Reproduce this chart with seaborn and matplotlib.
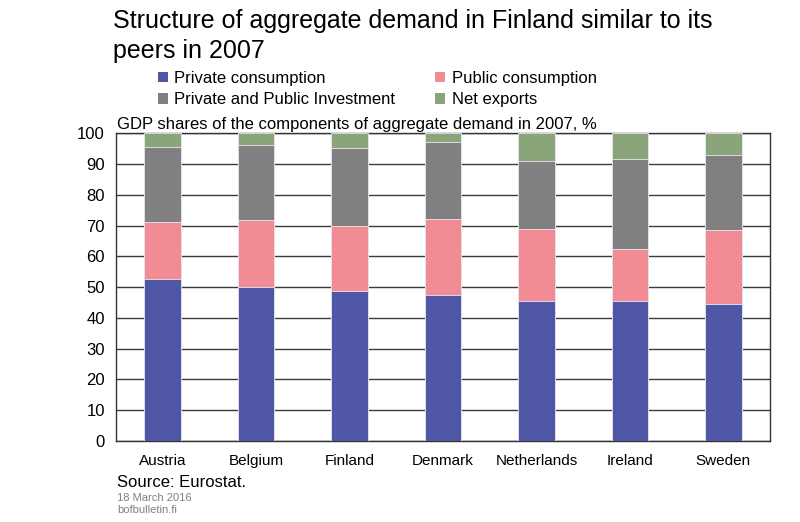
import numpy as np
import pandas as pd
import matplotlib
matplotlib.use("Agg")
import matplotlib.pyplot as plt
from matplotlib.patches import Patch
import seaborn as sns

countries = ["Austria", "Belgium", "Finland", "Denmark", "Netherlands", "Ireland", "Sweden"]
private_cons = [52.5, 50.1, 48.7, 47.5, 45.5, 45.5, 44.4]
public_cons = [18.7, 21.7, 21.1, 24.5, 23.3, 16.8, 24.1]
investment = [24.3, 24.3, 25.4, 25.2, 22.2, 29.2, 24.4]
net_exports = [4.5, 3.9, 4.8, 2.8, 9.0, 8.5, 7.1]

series_names = ["Private consumption", "Public consumption",
                "Private and Public Investment", "Net exports"]
colors = ["#4F56A5", "#F28C94", "#808080", "#8AA57A"]

sns.set_style("white")
plt.rcParams["font.family"] = ["Liberation Sans", "DejaVu Sans"]
plt.rcParams["text.color"] = "black"

df = pd.DataFrame({
    "country": countries,
    "private": private_cons,
    "public": public_cons,
    "invest": investment,
    "netexp": net_exports,
})
# cumulative tops, drawn from the tallest down so bars stack
df["c1"] = df["private"]
df["c2"] = df["c1"] + df["public"]
df["c3"] = df["c2"] + df["invest"]
df["c4"] = df["c3"] + df["netexp"]

fig = plt.figure(figsize=(8, 5.22), dpi=100)
ax = fig.add_axes([0.145, 0.155, 0.8175, 0.59])

for col, color in zip(["c4", "c3", "c2", "c1"], colors[::-1]):
    sns.barplot(data=df, x="country", y=col, color=color, width=0.39,
                saturation=1, edgecolor="#e8e8f0", linewidth=0.6, ax=ax, zorder=3)

ax.set_ylim(0, 100)
ax.set_xlim(-0.5, 6.5)
ax.set_yticks(np.arange(0, 101, 10))
ax.yaxis.grid(True, color="#3a3a3a", linewidth=1.0, zorder=0)
ax.set_axisbelow(True)
ax.set_xlabel("")
ax.set_ylabel("")
for s in ax.spines.values():
    s.set_visible(True)
    s.set_color("#333333")
    s.set_linewidth(1.0)
ax.tick_params(axis="y", labelsize=12, length=0, pad=8, labelcolor="black")
ax.tick_params(axis="x", labelsize=11, length=0, pad=9, labelcolor="black")

fig.text(0.141, 0.982, "Structure of aggregate demand in Finland similar to its\npeers in 2007",
         fontsize=18, va="top", ha="left", linespacing=1.3)

handles = [Patch(facecolor=c, edgecolor="none") for c in colors]
order = [0, 2, 1, 3]
fig.legend([handles[i] for i in order], [series_names[i] for i in order],
           ncol=2, loc="upper left", bbox_to_anchor=(0.197, 0.864), frameon=False,
           fontsize=12, handlelength=0.6, handleheight=0.6, handletextpad=0.4,
           columnspacing=2.4, labelspacing=0.38, borderpad=0, borderaxespad=0)

fig.text(0.146, 0.752, "GDP shares of the components of aggregate demand in 2007, %",
         fontsize=12, va="baseline", ha="left")

fig.text(0.146, 0.068, "Source: Eurostat.", fontsize=12, va="baseline", ha="left")
fig.text(0.146, 0.041, "18 March 2016", fontsize=8, color="#808080", va="baseline", ha="left")
fig.text(0.146, 0.017, "bofbulletin.fi", fontsize=8, color="#808080", va="baseline", ha="left")

fig.savefig("out.png", dpi=100)
